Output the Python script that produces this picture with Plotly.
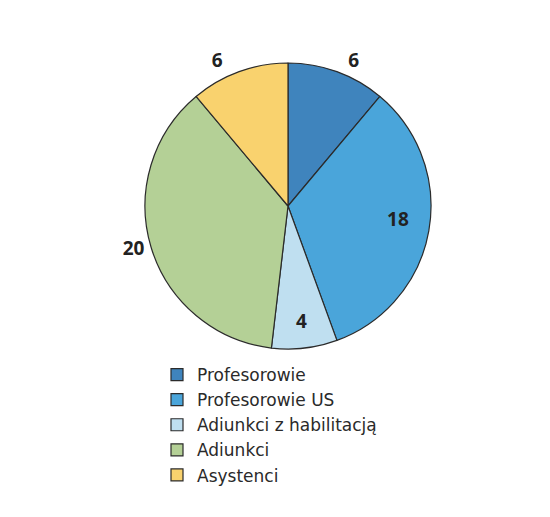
import plotly.graph_objects as go

# Staff structure by position
categories = ["Profesorowie", "Profesorowie US", "Adiunkci z habilitacją", "Adiunkci", "Asystenci"]
counts = [6, 18, 4, 20, 6]
slice_colors = ["#3f84bd", "#4aa5da", "#bfdff0", "#b4d096", "#f9d26e"]
label_positions = ["outside", "inside", "inside", "outside", "outside"]

NB = "\u00a0"
# value labels, padded so they sit where the printed figure has them
label_templates = [
    NB + "%{value}",
    NB * 14 + "%{value}",
    "%{value}",
    "%{value}",
    "%{value}" + NB * 2,
]

W, H = 550, 517
cx, cy, r = 288, 206, 143

fig = go.Figure(
    go.Pie(
        labels=categories,
        values=counts,
        sort=False,
        direction="clockwise",
        rotation=0,
        marker=dict(colors=slice_colors, line=dict(color="#2b2b2b", width=1.2)),
        texttemplate=label_templates,
        textposition=label_positions,
        insidetextorientation="horizontal",
        textfont=dict(family="Open Sans", size=19, color="#222222", weight="bold"),
        hoverinfo="label+value",
        domain=dict(x=[(cx - r) / W, (cx + r) / W], y=[1 - (cy + r) / H, 1 - (cy - r) / H]),
    )
)

fig.update_layout(
    width=W,
    height=H,
    margin=dict(l=0, r=0, t=0, b=0),
    paper_bgcolor="white",
    plot_bgcolor="white",
    showlegend=True,
    legend=dict(
        x=157 / W,
        y=1 - 357 / H,
        xanchor="left",
        yanchor="top",
        font=dict(family="DejaVu Sans", size=17, color="#2a2a2a"),
        itemwidth=30,
        tracegroupgap=0,
    ),
)

fig.write_html("out.html")
